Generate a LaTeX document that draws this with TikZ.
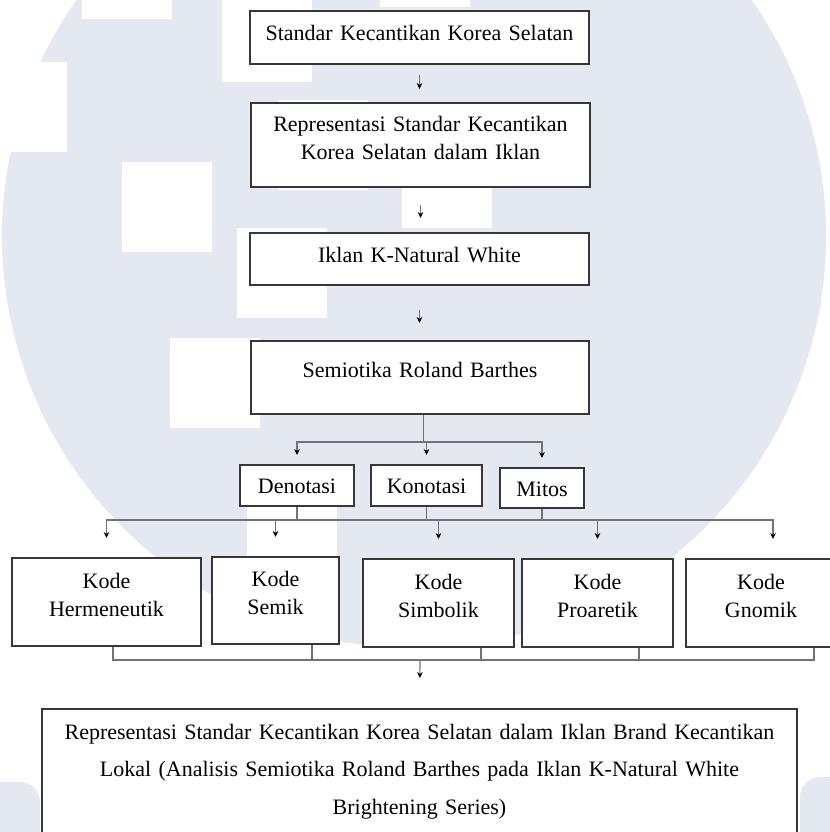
\documentclass[tikz,border=0pt]{standalone}
\usepackage{fontspec}
\setmainfont{Liberation Serif}
\usepackage{xcolor}
\usetikzlibrary{arrows.meta,positioning,calc}
\definecolor{wmark}{RGB}{228,232,240}
\definecolor{edge}{RGB}{55,55,55}
\definecolor{wire}{RGB}{115,115,115}

\begin{document}
\begin{tikzpicture}[x=0.5pt,y=-0.5pt,font=\fontsize{11}{14}\selectfont,>={Stealth[length=3pt,width=2.8pt,color=black]}]
\tikzset{box/.style={draw=edge,line width=1pt,fill=white,anchor=north,align=center,inner sep=0pt},
  kode/.style={box,text height=15pt,text depth=29pt},
  wire/.style={draw=wire,line width=0.6pt},
  flow/.style={wire,->}}
\useasboundingbox (0,0) rectangle (830,832);
% faint logo behind the chart
\fill[wmark] (414,236) circle[radius=412];
\foreach \x/\y in {82/-71,222/-8,380/-83,-23/62,122/162,278/100,402/138,237/228,170/338,247/505}
  \fill[white] (\x,\y) rectangle ++(90,90);
\fill[wmark,rounded corners=10pt] (-40,782) rectangle (40,900);
\fill[wmark,rounded corners=10pt] (800,777) rectangle (880,900);
% main chain
\node[box,text width=169.5pt,text height=14.5pt,text depth=12pt] (std) at (419.5,10) {Standar Kecantikan Korea Selatan};
\node[box,text width=169.5pt,text height=14pt,text depth=28pt] (rep) at (420.5,102) {Representasi Standar Kecantikan\\Korea Selatan dalam Iklan};
\node[box,text width=169.5pt,text height=14.5pt,text depth=11.5pt] (ikl) at (419.5,232) {Iklan K-Natural White};
\node[box,text width=169pt,text height=18pt,text depth=18.5pt] (sem) at (420,340) {Semiotika Roland Barthes};
\foreach \a/\b/\s/\t in {std/rep/5/6.5,rep/ikl/8.5/7,ikl/sem/12/8.5}
  \draw[flow,shorten <=\s pt,shorten >=\t pt] (\a.south) -- (\a.south |- \b.north);
% levels of meaning
\node[box,text width=57pt,text height=14pt,text depth=6.5pt] (deno) at (297,464) {Denotasi};
\node[box,text width=55.5pt,text height=14pt,text depth=6.5pt] (kono) at (426.5,464) {Konotasi};
\node[box,text width=42pt,text height=14pt,text depth=6pt] (mito) at (542,467) {Mitos};
\coordinate (split) at ($(sem.south)+(3.5,27)$);
\draw[wire] (sem.south -| split) -- (split);
\foreach \n in {deno,kono,mito}{\draw[flow,shorten >=4.5pt] (split) -| (\n.north);}
% five codes
\node[kode,text width=94.5pt] (herm) at (106.5,557) {Kode\\Hermeneutik};
\node[kode,text width=63.5pt,text height=14.5pt] (semi) at (275.5,556) {Kode\\Semik};
\node[kode,text width=75.5pt] (simb) at (438.5,558) {Kode\\Simbolik};
\node[kode,text width=75.5pt] (proa) at (597.5,558) {Kode\\Proaretik};
\node[kode,text width=75pt] (gnom) at (761,558) {Kode\\Gnomik};
\coordinate (fan) at (424,520);
\foreach \n in {deno,kono,mito}{\draw[wire] (\n.south) -- (\n.south |- fan);}
\foreach \n in {herm,semi,simb,proa}{\draw[flow,shorten >=9.5pt] (fan) -| (\n.north);}
\draw[flow,shorten >=9.5pt] (fan) -| ([xshift=6pt]gnom.north);
% result
\node[box,text width=377.5pt,text height=15pt,text depth=56pt,font=\fontsize{11}{18.75}\selectfont] (fin) at (419.5,708)
  {Representasi Standar Kecantikan Korea Selatan dalam Iklan Brand Kecantikan\\Lokal (Analisis Semiotika Roland Barthes pada Iklan K-Natural White\\Brightening Series)};
\coordinate (join) at (420,660);
\foreach \n/\d in {herm/3.25,semi/18.25,simb/21.25,proa/20.75,gnom/26.5}
  \draw[wire] ([xshift=\d pt]\n.south) |- (join);
\draw[flow,shorten >=15pt] (join) -- (fin.north);
\end{tikzpicture}
\end{document}
